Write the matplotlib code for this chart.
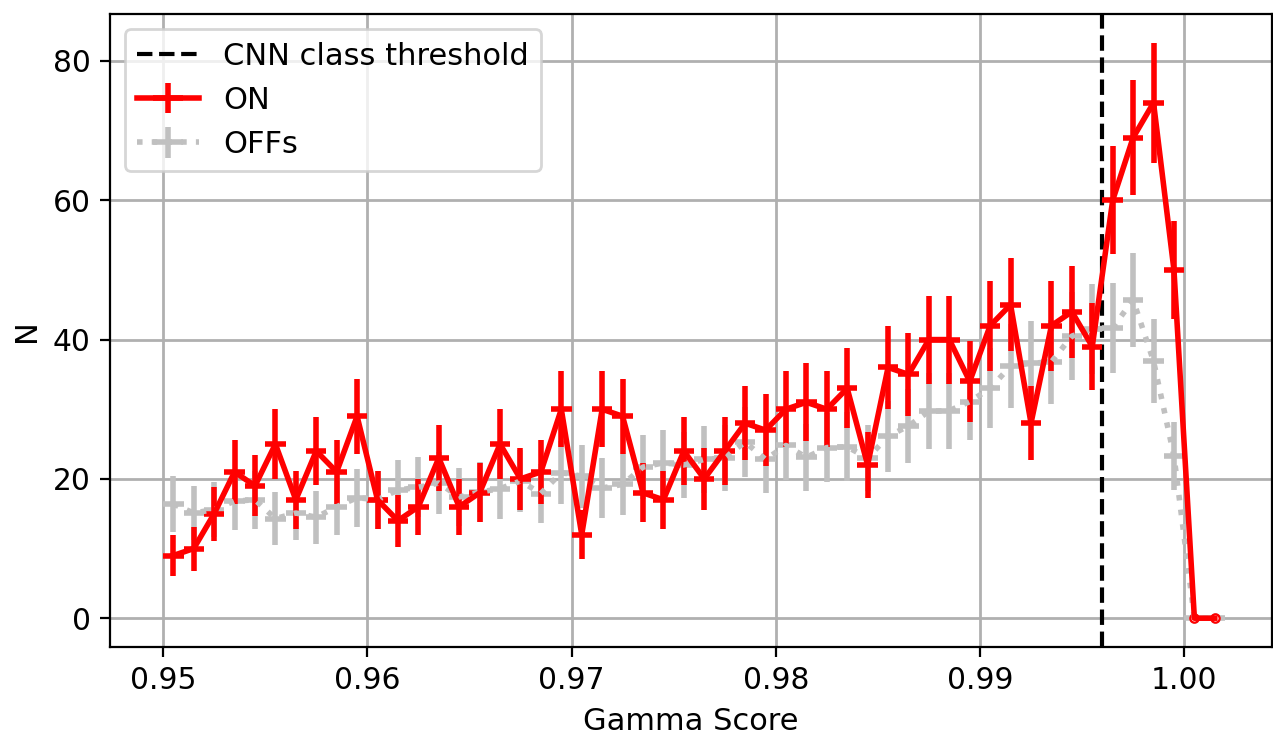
import numpy as np
import matplotlib
matplotlib.use("Agg")
import matplotlib.pyplot as plt

# histogram bins in gamma score (width 0.001)
bin_edges = np.linspace(0.95, 1.002, 53)

# counts per bin
on_counts = [9, 10, 15, 21, 19, 25, 17, 24, 21, 29,
             17, 14, 16, 23, 16, 18, 25, 20, 21, 30,
             12, 30, 29, 18, 17, 24, 20, 24, 28, 27,
             30, 31, 30, 33, 22, 36, 35, 40, 40, 34,
             42, 45, 28, 42, 44, 39, 60, 69, 74, 50,
             0, 0]
off_counts = [16.4, 15.1, 15.6, 16.8, 17.0, 14.3, 15.1, 14.5, 16.0, 17.3,
              17.0, 18.4, 18.8, 19.4, 17.4, 18.1, 18.6, 19.7, 17.9, 20.9,
              20.4, 18.7, 19.2, 21.7, 22.3, 22.0, 22.8, 23.0, 25.3, 22.8,
              24.8, 23.1, 24.5, 24.6, 23.0, 26.1, 27.6, 29.7, 29.8, 31.1,
              33.0, 36.2, 36.6, 36.8, 40.5, 41.5, 41.7, 45.7, 36.9, 23.3,
              0, 0]

threshold = 0.996

centers = 0.5 * (bin_edges[1:] + bin_edges[:-1])
half_w = 0.5 * np.diff(bin_edges)
on = np.array(on_counts, dtype=float)
off = np.array(off_counts, dtype=float)

fig, ax = plt.subplots(figsize=(6.365, 3.705), dpi=200)
fig.subplots_adjust(left=0.0864, right=0.9992, bottom=0.1269, top=0.981)

thr = ax.axvline(threshold, color="black", ls="--", lw=1.5, label="CNN class threshold")

off_eb = ax.errorbar(centers, off, yerr=np.sqrt(off), xerr=half_w,
                     color="silver", ls=":", lw=2, elinewidth=2, label="OFFs")
zo = off == 0
ax.plot(centers[zo], off[zo], "o", ms=3, mfc="white", mec="silver", mew=0.8)

# no bin-width bar for empty ON bins
on_xerr = np.where(on > 0, half_w, 0.0)
on_eb = ax.errorbar(centers, on, yerr=np.sqrt(on), xerr=on_xerr,
                    color="red", ls="-", lw=2, elinewidth=2, label="ON")
z = on == 0
ax.plot(centers[z], on[z], "o", ms=3, mfc="white", mec="red", mew=0.8)

ax.set_xlim(0.9474, 1.0043)
ax.grid(True, lw=1.0)
ax.tick_params(labelsize=10.7)
ax.set_xlabel("Gamma Score", fontsize=11)
ax.set_ylabel("N", fontsize=11)
ax.legend(handles=[thr, on_eb, off_eb], loc="upper left", fontsize=11)

fig.savefig("out.png", dpi=200)
